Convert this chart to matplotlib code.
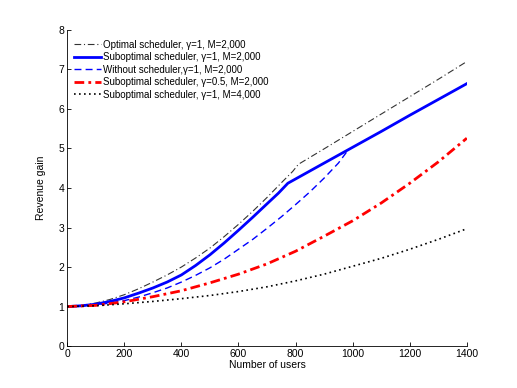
import numpy as np
import matplotlib
matplotlib.use("Agg")
import matplotlib.pyplot as plt

plt.rcParams['font.family'] = ['Liberation Sans', 'DejaVu Sans']

# [Revenue gain vs number of users]__________________________________________

users_opt = [0, 50, 100, 150, 200, 250, 300, 350, 400, 450, 500, 550, 600, 650, 700, 750, 790, 810,
             900, 1000, 1100, 1200, 1300, 1400]
gain_opt = [1.0, 1.03, 1.09, 1.18, 1.3, 1.45, 1.62, 1.8, 2.0, 2.23, 2.48, 2.77, 3.08, 3.41, 3.76, 4.13, 4.42, 4.6,
            4.99, 5.43, 5.87, 6.31, 6.75, 7.2]

users_sub = [0, 50, 100, 150, 200, 250, 300, 350, 400, 450, 500, 550, 600, 650, 700, 740, 773,
             900, 1000, 1100, 1200, 1300, 1400]
gain_sub = [1.0, 1.02, 1.06, 1.13, 1.22, 1.34, 1.47, 1.62, 1.8, 2.04, 2.31, 2.61, 2.93, 3.26, 3.6, 3.87, 4.12,
            4.63, 5.03, 5.43, 5.84, 6.24, 6.64]

users_without = [0, 50, 100, 150, 200, 250, 300, 350, 400, 450, 500, 550, 600, 650, 700, 750, 800, 850,
                 900, 950, 983]
gain_without = [1.0, 1.01, 1.04, 1.09, 1.15, 1.24, 1.35, 1.47, 1.62, 1.79, 1.98, 2.2, 2.45, 2.7, 2.98, 3.27,
                3.58, 3.9, 4.25, 4.63, 4.95]

users_full = [0, 100, 200, 300, 400, 500, 600, 700, 800, 900, 1000, 1100, 1200, 1300, 1400]
gain_half = [1.0, 1.03, 1.12, 1.25, 1.40, 1.6, 1.82, 2.08, 2.4, 2.78, 3.17, 3.62, 4.12, 4.66, 5.26]
gain_m4000 = [1.0, 1.02, 1.07, 1.13, 1.2, 1.28, 1.38, 1.5, 1.65, 1.82, 2.02, 2.22, 2.45, 2.7, 2.97]

labels = [
    "Optimal scheduler, \u03b3=1, M=2,000",
    "Suboptimal scheduler, \u03b3=1, M=2,000",
    "Without scheduler,\u03b3=1, M=2,000",
    "Suboptimal scheduler, \u03b3=0.5, M=2,000",
    "Suboptimal scheduler, \u03b3=1, M=4,000",
]

fig = plt.figure(figsize=(5.17, 3.88), dpi=100)
ax = fig.add_axes([0.130, 0.108, 0.773, 0.815])

ax.plot(users_opt, gain_opt, color='#333333', linestyle=(0, (6, 2.5, 1, 2.5)), lw=0.8, label=labels[0])
ax.plot(users_sub, gain_sub, color='#0000ff', linestyle='-', lw=2.0, label=labels[1])
ax.plot(users_without, gain_without, color='#0000ff', linestyle=(0, (5, 3)), lw=1.0, label=labels[2])
ax.plot(users_full, gain_half, color='#ff0000', linestyle=(0, (3.5, 1.5, 1, 1.5)), lw=2.0, label=labels[3])
ax.plot(users_full, gain_m4000, color='black', linestyle=(0, (1, 2)), lw=1.2, label=labels[4])

ax.set_xlim(0, 1400)
ax.set_ylim(0, 8)
ax.set_xticks(np.arange(0, 1401, 200))
ax.set_yticks(np.arange(0, 9, 1))
ax.tick_params(direction='in', labelsize=7.5, length=3, width=0.6, pad=2)
ax.spines['top'].set_visible(False)
ax.spines['right'].set_visible(False)
ax.spines['left'].set_linewidth(0.6)
ax.spines['bottom'].set_linewidth(0.6)
ax.set_xlabel("Number of users", fontsize=7.5, labelpad=1)
ax.set_ylabel("Revenue gain", fontsize=7.5, labelpad=9)

ax.legend(loc='upper left', bbox_to_anchor=(0.0, 0.99), frameon=False, fontsize=7,
          handlelength=2.8, handletextpad=0.2, labelspacing=0.25, borderaxespad=0.3)

fig.savefig("out.png", dpi=100)
